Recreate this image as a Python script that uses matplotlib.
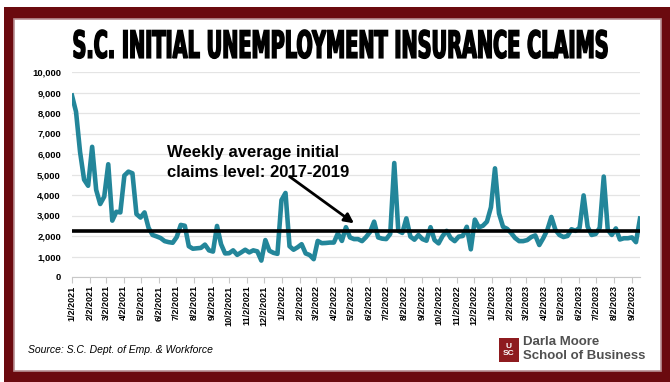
import matplotlib.pyplot as plt
import matplotlib.dates as mdates
import matplotlib.ticker as mticker
from matplotlib.patches import Rectangle
from matplotlib.patheffects import AbstractPathEffect
from matplotlib.transforms import Affine2D
import pandas as pd

plt.rcParams['font.family'] = ['Liberation Sans', 'DejaVu Sans']

# weekly initial claims, week ending Saturday
claims_2021 = [8850, 8060, 6100, 4750, 4450, 6350, 4250, 3560, 3920, 5500,
               2750, 3180, 3150, 4950, 5140, 5060, 3070, 2900, 3150, 2400,
               2050, 1980, 1900, 1750, 1700, 1670, 1950, 2540, 2500, 1500,
               1380, 1400, 1420, 1580, 1300, 1240, 2490, 1600, 1150, 1160,
               1300, 1080, 1200, 1330, 1200, 1300, 1250, 800, 1800, 1280,
               1180, 1130]
claims_2022 = [3750, 4100, 1500, 1330, 1450, 1600, 1150, 1070, 870, 1760,
               1650, 1660, 1680, 1680, 2130, 1760, 2430, 1930, 1850, 1850,
               1750, 1950, 2200, 2700, 1930, 1870, 1850, 2100, 5560, 2250,
               2150, 2860, 1970, 1820, 2050, 1850, 1770, 2430, 1800, 1640,
               2000, 2250, 1900, 1750, 1970, 2000, 2450, 1350, 2800, 2420,
               2500, 2700, 3400]
claims_2023 = [5300, 3100, 2450, 2350, 2150, 1900, 1750, 1750, 1800, 1950,
               2030, 1560, 1900, 2300, 2930, 2300, 2050, 1950, 2000, 2330,
               2250, 2400, 3980, 2450, 2050, 2100, 2400, 4900, 2300, 2050,
               2370, 1830, 1890, 1890, 1930, 1700, 2850]
first_week = '2021-01-02'
avg_2017_2019 = 2250

claims = claims_2021 + claims_2022 + claims_2023
weeks = pd.date_range(first_week, periods=len(claims), freq='7D')


class Poster(AbstractPathEffect):
    """Stretch glyphs around a fixed centre (display pixels) and thicken them."""

    def __init__(self, sx, sy, cx, cy, stroke):
        super().__init__()
        self.sx, self.sy, self.cx, self.cy, self.stroke = sx, sy, cx, cy, stroke

    def draw_path(self, renderer, gc, tpath, affine, rgbFace=None):
        stretch = (Affine2D().translate(-self.cx, -self.cy)
                   .scale(self.sx, self.sy).translate(self.cx, self.cy))
        gc0 = renderer.new_gc()
        gc0.copy_properties(gc)
        gc0.set_linewidth(self.stroke)
        gc0.set_foreground(rgbFace)
        gc0.set_joinstyle('miter')
        renderer.draw_path(gc0, tpath, affine + stretch, rgbFace)
        gc0.restore()


W, H = 670, 382
fig = plt.figure(figsize=(W / 100, H / 100), dpi=100)

# maroon frame
fig.patches.append(Rectangle((4 / W, 0), 666 / W, 375 / H, transform=fig.transFigure,
                             facecolor='#6B0A0F', edgecolor='none', zorder=-3))
fig.patches.append(Rectangle((14 / W, 11 / H), 647 / W, 352 / H, transform=fig.transFigure,
                             facecolor='white', edgecolor='#B89094', lw=1.2, zorder=-2))

title_x, title_y = 340, 47
fig.text(title_x / W, 1 - title_y / H, 'S.C. INITIAL UNEMPLOYMENT INSURANCE CLAIMS',
         ha='center', va='center', fontsize=15, fontweight='bold',
         family='DejaVu Sans', color='black',
         path_effects=[Poster(0.925, 1.8, title_x, H - title_y, 1.1)])

ax = fig.add_axes([72 / W, (H - 277) / H, 568 / W, 205 / H])
ax.patch.set_alpha(0)
ax.plot(weeks, claims, color='#23869A', lw=3.3, solid_joinstyle='round', zorder=3)
ax.axhline(avg_2017_2019, color='black', lw=2.6, zorder=4)

ax.set_ylim(0, 10000)
ax.set_xlim(weeks[0], weeks[-1])
ax.yaxis.set_major_locator(mticker.MultipleLocator(1000))
ax.yaxis.set_major_formatter(mticker.StrMethodFormatter('{x:,.0f}'))
ax.grid(axis='y', color='#E4E4E4', lw=0.9)
ax.set_axisbelow(True)

ax.xaxis.set_major_locator(mdates.MonthLocator(bymonthday=2))
ax.xaxis.set_major_formatter(
    mticker.FuncFormatter(lambda v, p: '{d.month}/{d.day}/{d.year}'.format(d=mdates.num2date(v))))

for s in ['top', 'right', 'left']:
    ax.spines[s].set_visible(False)
ax.spines['bottom'].set_color('#C8C8C8')
ax.tick_params(axis='x', length=4, color='#C8C8C8', labelsize=6.5, pad=2, labelrotation=90)
ax.tick_params(axis='y', length=0, labelsize=6.8, pad=8)
for lab in ax.get_xticklabels() + ax.get_yticklabels():
    lab.set_fontweight('bold')

ax.text(0.167, 0.645, 'Weekly average initial\nclaims level: 2017-2019',
        transform=ax.transAxes, ha='left', va='top', fontsize=12,
        fontweight='bold', linespacing=1.45)
ax.annotate('', xy=(weeks[70], 2620), xytext=(weeks[54], 4900),
            arrowprops=dict(arrowstyle='-|>', color='black', lw=2,
                            mutation_scale=14, shrinkA=0, shrinkB=0))

fig.text(28 / W, 1 - 350 / H, 'Source: S.C. Dept. of Emp. & Workforce',
         ha='left', va='center', fontsize=7.5, style='italic')

# school logo
fig.patches.append(Rectangle((499 / W, 1 - 362 / H), 20 / W, 24 / H, transform=fig.transFigure,
                             facecolor='#8E1B1F', edgecolor='none', zorder=2))
fig.text(509 / W, 1 - 350 / H, 'U\nSC', ha='center', va='center', fontsize=6,
         fontweight='bold', color='white', linespacing=0.9)
fig.text(523 / W, 1 - 342 / H, 'Darla Moore', ha='left', va='center',
         fontsize=9.5, fontweight='bold', color='#505050')
fig.text(523 / W, 1 - 356 / H, 'School of Business', ha='left', va='center',
         fontsize=9.5, fontweight='bold', color='#505050')

fig.savefig('out.png', dpi=100)
